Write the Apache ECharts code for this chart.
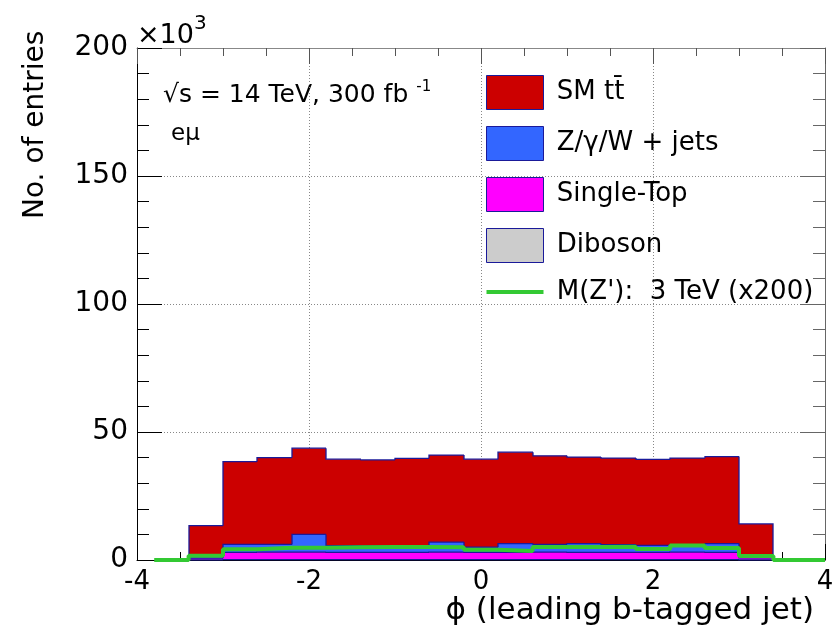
<!DOCTYPE html>
<html><head><meta charset="utf-8">
<script src="https://cdn.jsdelivr.net/npm/echarts@6/dist/echarts.min.js"></script>
<style>html,body{margin:0;padding:0;background:#fff}#c{width:838px;height:637px}</style>
</head><body><div id="c"></div>
<script>
// ---- data (values in units of 10^3 entries) ----
const binLow = [-3.4,-3.0,-2.6,-2.2,-1.8,-1.4,-1.0,-0.6,-0.2,0.2,0.6,1.0,1.4,1.8,2.2,2.6,3.0];
const binWidth = 0.4;
const diboson   = [0.05,0.15,0.15,0.15,0.15,0.15,0.15,0.15,0.15,0.15,0.15,0.15,0.15,0.15,0.15,0.15,0.05];
const singleTop = [0.65,2.85,2.95,2.95,2.85,2.85,2.85,2.95,2.85,2.85,2.95,2.85,2.85,2.85,2.95,2.85,0.75];
const zjets     = [1.0,3.1,3.0,6.9,2.6,2.5,2.5,3.9,2.0,3.4,3.0,3.4,3.0,2.7,2.9,3.4,0.7];
const ttbar     = [11.7,32.3,33.9,33.7,33.8,33.6,34.2,34.0,34.4,35.7,34.6,33.8,33.8,33.6,33.8,34.0,12.6];
const sigLow    = [-3.8,-3.4,-3.0,-2.6,-2.2,-1.8,-1.4,-1.0,-0.6,-0.2,0.2,0.6,1.0,1.4,1.8,2.2,2.6,3.0,3.4];
const sigValues = [0,1.7,4.2,4.8,4.8,5.0,5.1,5.1,5.0,4.0,3.5,5.1,5.1,5.2,4.3,5.7,4.7,1.6,0];
const sigEnd = 4.0;
const xTicks = {min:-4, max:4, interval:2};
const yTicks = {min:0, max:200, interval:50};

const names = ['SM tt\u0304', 'Z/\u03b3/W + jets', 'Single-Top', 'Diboson', "M(Z'):  3 TeV (x200)"];
const colors = ['#cc0000', '#3366ff', '#ff00ff', '#cccccc', '#33c933'];
const OUT = '#1a1a99';
const FONT = 'DejaVu Sans';

// cumulative stacks (bottom: diboson, single-top, Z+jets, ttbar)
const cumDib = diboson.slice();
const cumST  = cumDib.map((v,i)=>v+singleTop[i]);
const cumZ   = cumST.map((v,i)=>v+zjets[i]);
const cumTT  = cumZ.map((v,i)=>v+ttbar[i]);

function makeHist(name, color, tops) {
  const data = binLow.map((x,i)=>[x, tops[i], i>0?tops[i-1]:0, i===tops.length-1?1:0]);
  return {
    type:'custom', name, data, encode:{x:0,y:1},
    itemStyle:{color, borderColor:OUT, borderWidth:1},
    renderItem(params, api){
      const x0=api.value(0), top=api.value(1), prev=api.value(2), last=api.value(3);
      const x1=x0+binWidth;
      const pa=api.coord([x0,0]), pb=api.coord([x1,top]), pp=api.coord([x0,prev]);
      const L=Math.round(pa[0]), R=Math.round(pb[0]);
      const pts=[[L,pp[1]],[L,pb[1]],[R,pb[1]]];
      if(last) pts.push([R,pa[1]]);
      return {type:'group', children:[
        {type:'rect', shape:{x:L, y:pb[1], width:R-L, height:pa[1]-pb[1]}, style:{fill:color}},
        {type:'polyline', shape:{points:pts}, style:{stroke:OUT, lineWidth:1.3, fill:null}}
      ]};
    }
  };
}

const sigData = sigLow.map((x,i)=>[x, sigValues[i]]);
sigData.push([sigEnd, sigValues[sigValues.length-1]]);

const chart = echarts.init(document.getElementById('c'), null, {renderer:'canvas'});
chart.setOption({
  animation:false,
  backgroundColor:'#fff',
  grid:{left:137, right:13, top:48, bottom:77},
  xAxis:[
    {type:'value', position:'bottom', min:xTicks.min, max:xTicks.max, interval:xTicks.interval,
     axisLine:{onZero:false, lineStyle:{color:'#000', width:1}},
     axisTick:{inside:true, length:16, lineStyle:{color:'#000'}},
     minorTick:{show:true, splitNumber:4, length:8, lineStyle:{color:'#000'}},
     axisLabel:{fontFamily:FONT, fontSize:26, color:'#000', margin:9},
     splitLine:{show:true, lineStyle:{color:'#888', type:[1,2], width:1}}},
    {type:'value', position:'top', min:xTicks.min, max:xTicks.max, interval:xTicks.interval,
     axisLine:{onZero:false, lineStyle:{color:'#888', width:1}},
     axisTick:{inside:true, length:16, lineStyle:{color:'#555'}},
     minorTick:{show:true, splitNumber:4, length:8, lineStyle:{color:'#555'}},
     axisLabel:{show:false}, splitLine:{show:false}}
  ],
  yAxis:[
    {type:'value', position:'left', min:yTicks.min, max:yTicks.max, interval:yTicks.interval,
     axisLine:{show:true, onZero:false, lineStyle:{color:'#000', width:1}},
     axisTick:{show:true, inside:true, length:25, lineStyle:{color:'#000'}},
     minorTick:{show:true, splitNumber:5, length:12, lineStyle:{color:'#000'}},
     axisLabel:{fontFamily:FONT, fontSize:28, color:'#000', margin:9},
     splitLine:{show:true, lineStyle:{color:'#888', type:[1,2], width:1}}},
    {type:'value', position:'right', min:yTicks.min, max:yTicks.max, interval:yTicks.interval,
     axisLine:{show:true, onZero:false, lineStyle:{color:'#666', width:1}},
     axisTick:{show:true, inside:true, length:25, lineStyle:{color:'#666'}},
     minorTick:{show:true, splitNumber:5, length:12, lineStyle:{color:'#666'}},
     axisLabel:{show:false}, splitLine:{show:false}}
  ],
  legend:{
    orient:'vertical', left:481, top:70, itemWidth:57, itemHeight:34, itemGap:16,
    textStyle:{fontFamily:FONT, fontSize:26, color:'#000'},
    formatter:n=>' '+n,
    data:[
      {name:names[0], icon:'rect', itemStyle:{color:colors[0], borderColor:OUT, borderWidth:1}},
      {name:names[1], icon:'rect', itemStyle:{color:colors[1], borderColor:OUT, borderWidth:1}},
      {name:names[2], icon:'rect', itemStyle:{color:colors[2], borderColor:OUT, borderWidth:1}},
      {name:names[3], icon:'rect', itemStyle:{color:colors[3], borderColor:OUT, borderWidth:1}},
      {name:names[4], icon:'path://M0,0H57V4H0Z', itemStyle:{color:colors[4], borderWidth:0}}
    ]
  },
  series:[
    makeHist(names[0], colors[0], cumTT),
    makeHist(names[1], colors[1], cumZ),
    makeHist(names[2], colors[2], cumST),
    makeHist(names[3], colors[3], cumDib),
    {type:'line', name:names[4], data:sigData, step:'end', symbol:'none', clip:false, z:5,
     itemStyle:{color:colors[4]}, lineStyle:{color:colors[4], width:4}}
  ],
  graphic:[
    {type:'text', x:137, y:36, style:{text:'\u00d710', font:'27px "DejaVu Sans"', fill:'#000', align:'left', verticalAlign:'middle'}},
    {type:'text', x:194, y:24, style:{text:'3', font:'20px "DejaVu Sans"', fill:'#000', align:'left', verticalAlign:'middle'}},
    {type:'text', x:163, y:80, style:{text:'{a|\u221as = 14 TeV, 300 fb }{b|-1}', fill:'#000', align:'left', verticalAlign:'top',
      rich:{a:{fontFamily:FONT, fontSize:25, fill:'#000', verticalAlign:'bottom', lineHeight:28}, b:{fontFamily:FONT, fontSize:15, fill:'#000', verticalAlign:'top', lineHeight:28}}}},
    {type:'text', x:171, y:134, style:{text:'e\u03bc', font:'23px "DejaVu Sans"', fill:'#000', align:'left', verticalAlign:'middle'}},
    {type:'text', x:22, y:219, rotation:Math.PI/2, style:{text:'No. of entries', font:'28px "DejaVu Sans"', fill:'#000', align:'left', verticalAlign:'top'}},
    {type:'text', x:814, y:611, style:{text:'\u03d5 (leading b-tagged jet)', font:'31px "DejaVu Sans"', fill:'#000', align:'right', verticalAlign:'middle'}}
  ]
});
</script>
</body></html>
